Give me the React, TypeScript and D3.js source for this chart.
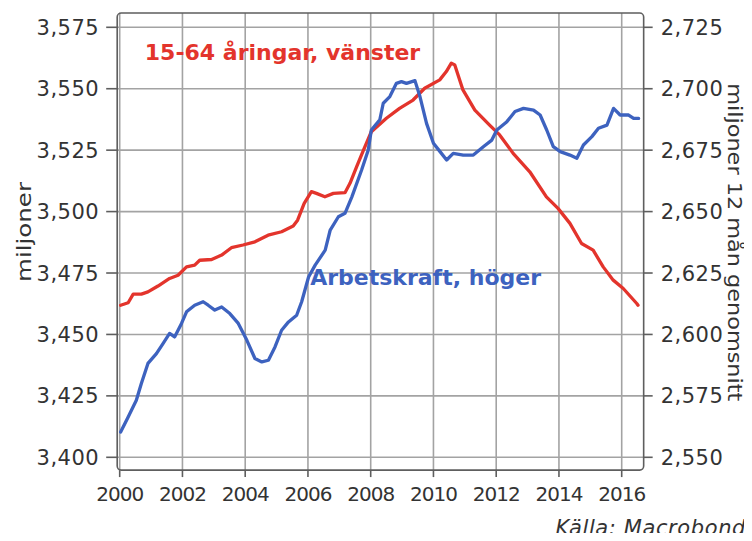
import React from 'react';
import * as d3 from 'd3';

// 15-64 åringar (left axis, miljoner)
const popYears = [2000.03, 2000.27, 2000.43, 2000.69, 2000.9, 2001.22, 2001.59, 2001.86, 2002.13, 2002.39, 2002.55, 2002.93, 2003.25, 2003.56, 2003.93, 2004.31, 2004.73, 2005.16, 2005.53, 2005.67, 2005.88, 2006.11, 2006.27, 2006.54, 2006.81, 2007.18, 2007.34, 2007.55, 2007.77, 2008.02, 2008.5, 2008.92, 2009.35, 2009.72, 2010.2, 2010.41, 2010.57, 2010.68, 2010.94, 2011.32, 2011.79, 2012.11, 2012.54, 2013.07, 2013.6, 2013.97, 2014.35, 2014.72, 2015.09, 2015.41, 2015.73, 2016.05, 2016.48, 2016.52];
const popValues = [3.4619, 3.4629, 3.4664, 3.4664, 3.4673, 3.4697, 3.4728, 3.4741, 3.4775, 3.4782, 3.4802, 3.4805, 3.4823, 3.4853, 3.4864, 3.4877, 3.4904, 3.4918, 3.4941, 3.4965, 3.5033, 3.5081, 3.5074, 3.506, 3.5074, 3.5077, 3.5115, 3.5182, 3.525, 3.5325, 3.538, 3.542, 3.5454, 3.5502, 3.5536, 3.557, 3.5604, 3.5597, 3.5495, 3.5413, 3.5352, 3.5312, 3.5237, 3.5162, 3.506, 3.5013, 3.4952, 3.487, 3.4843, 3.4775, 3.4721, 3.4687, 3.4626, 3.4619];

// Arbetskraft (right axis, miljoner 12 mån genomsnitt)
const laborYears = [2000.03, 2000.27, 2000.53, 2000.69, 2000.9, 2001.17, 2001.38, 2001.59, 2001.75, 2001.97, 2002.13, 2002.39, 2002.66, 2002.82, 2003.03, 2003.25, 2003.51, 2003.78, 2004.05, 2004.31, 2004.53, 2004.74, 2004.95, 2005.16, 2005.38, 2005.64, 2005.8, 2006.02, 2006.23, 2006.55, 2006.71, 2006.97, 2007.18, 2007.4, 2007.71, 2007.92, 2008.02, 2008.29, 2008.4, 2008.61, 2008.82, 2008.98, 2009.14, 2009.41, 2009.57, 2009.78, 2010.0, 2010.21, 2010.42, 2010.63, 2010.95, 2011.27, 2011.59, 2011.86, 2012.02, 2012.34, 2012.6, 2012.87, 2013.19, 2013.4, 2013.61, 2013.82, 2014.04, 2014.35, 2014.57, 2014.78, 2015.05, 2015.26, 2015.53, 2015.74, 2015.95, 2016.22, 2016.38, 2016.54];
const laborValues = [2.5603, 2.5664, 2.5732, 2.58, 2.5882, 2.5922, 2.5963, 2.6004, 2.599, 2.6045, 2.6092, 2.6119, 2.6133, 2.6119, 2.6099, 2.6112, 2.6085, 2.6045, 2.5977, 2.5902, 2.5888, 2.5895, 2.5949, 2.6017, 2.6051, 2.6078, 2.6133, 2.6234, 2.6282, 2.6343, 2.6425, 2.6479, 2.6493, 2.656, 2.6669, 2.675, 2.6832, 2.6873, 2.6941, 2.6968, 2.7022, 2.7029, 2.7022, 2.7033, 2.6968, 2.6859, 2.6778, 2.6744, 2.671, 2.6737, 2.673, 2.673, 2.6764, 2.6791, 2.6832, 2.6866, 2.6907, 2.692, 2.6913, 2.6893, 2.6832, 2.6764, 2.6744, 2.673, 2.6717, 2.6771, 2.6805, 2.6839, 2.6852, 2.692, 2.6893, 2.6893, 2.6879, 2.6879];

const leftTicks = [3.4, 3.425, 3.45, 3.475, 3.5, 3.525, 3.55, 3.575];
const leftLabels = ['3,400', '3,425', '3,450', '3,475', '3,500', '3,525', '3,550', '3,575'];
const rightTicks = [2.55, 2.575, 2.6, 2.625, 2.65, 2.675, 2.7, 2.725];
const rightLabels = ['2,550', '2,575', '2,600', '2,625', '2,650', '2,675', '2,700', '2,725'];
const yearTicks = [2000, 2002, 2004, 2006, 2008, 2010, 2012, 2014, 2016];

const RED = '#e3342c';
const BLUE = '#3d62bf';
const TXT = '#333333';
const FONT = 'DejaVu Sans, Verdana, sans-serif';

export default function App() {
  const width = 752;
  const height = 541;

  const x = d3.scaleLinear().domain([2000, 2016]).range([119.7, 621.7]);
  const yL = d3.scaleLinear().domain([3.4, 3.575]).range([457.3, 27.3]);
  const yR = d3.scaleLinear().domain([2.55, 2.725]).range([457.3, 27.3]);

  // frame extends slightly beyond tick range
  const fx0 = x(1999.92);
  const fx1 = x(2016.7);
  const fy0 = yL(3.5808);
  const fy1 = yL(3.3948);

  const popLine = d3.line<number>()
    .x((_, i) => x(popYears[i]))
    .y(d => yL(d));
  const laborLine = d3.line<number>()
    .x((_, i) => x(laborYears[i]))
    .y(d => yR(d));

  return (
    <div style={{ margin: -8, width, height, background: '#fff' }}>
      <svg width={width} height={height} style={{ display: 'block', fontFamily: FONT }}>
        {/* grid */}
        <g stroke="#a3a3a3" strokeWidth={1.6}>
          {yearTicks.map(t => (
            <line key={'gx' + t} x1={x(t)} x2={x(t)} y1={fy0} y2={fy1} />
          ))}
          {leftTicks.map(t => (
            <line key={'gy' + t} x1={fx0} x2={fx1} y1={yL(t)} y2={yL(t)} />
          ))}
        </g>

        {/* frame */}
        <rect x={fx0} y={fy0} width={fx1 - fx0} height={fy1 - fy0} rx={4}
          fill="none" stroke="#5e5e5e" strokeWidth={1.6} />

        {/* ticks */}
        <g stroke="#5e5e5e" strokeWidth={1.6}>
          {leftTicks.map(t => (
            <line key={'tl' + t} x1={fx0 - 11} x2={fx0} y1={yL(t)} y2={yL(t)} />
          ))}
          {rightTicks.map(t => (
            <line key={'tr' + t} x1={fx1} x2={fx1 + 9} y1={yR(t)} y2={yR(t)} />
          ))}
          {yearTicks.map(t => (
            <line key={'tx' + t} x1={x(t)} x2={x(t)} y1={fy1} y2={fy1 + 7} />
          ))}
        </g>

        {/* series */}
        <path d={popLine(popValues) || ''} fill="none" stroke={RED} strokeWidth={3.3}
          strokeLinejoin="round" strokeLinecap="round" />
        <path d={laborLine(laborValues) || ''} fill="none" stroke={BLUE} strokeWidth={3.3}
          strokeLinejoin="round" strokeLinecap="round" />

        {/* tick labels */}
        <g fill={TXT} fontSize={21} letterSpacing={0.5}>
          {leftTicks.map((t, i) => (
            <text key={'ll' + t} x={fx0 - 18} y={yL(t)} dy="0.36em" textAnchor="end">{leftLabels[i]}</text>
          ))}
          {rightTicks.map((t, i) => (
            <text key={'rl' + t} x={fx1 + 17} y={yR(t)} dy="0.36em" textAnchor="start">{rightLabels[i]}</text>
          ))}
        </g>
        <g fill={TXT} fontSize={20} letterSpacing={-1}>
          {yearTicks.map(t => (
            <text key={'xl' + t} x={x(t)} y={fy1 + 31} textAnchor="middle">{t}</text>
          ))}
        </g>

        {/* axis titles */}
        <text transform={`translate(24,232) rotate(-90)`} textAnchor="middle"
          dy="0.35em" fill={TXT} fontSize={20} textLength={100} lengthAdjust="spacingAndGlyphs">miljoner</text>
        <text transform={`translate(735,${yR(2.6375)}) rotate(90)`} textAnchor="middle"
          dy="0.35em" fill={TXT} fontSize={20} textLength={318} lengthAdjust="spacingAndGlyphs">miljoner 12 mån genomsnitt</text>

        {/* series labels */}
        <text x={x(2000.8)} y={yL(3.5616)} fill={RED} fontWeight="bold" fontSize={22}>15-64 åringar, vänster</text>
        <text x={x(2006.07)} y={yL(3.4700)} fill={BLUE} fontWeight="bold" fontSize={22}>Arbetskraft, höger</text>

        {/* source */}
        <text x={746} y={535} textAnchor="end" fill={TXT} fontStyle="italic" fontSize={21} letterSpacing={0.6}>Källa: Macrobond</text>
      </svg>
    </div>
  );
}
